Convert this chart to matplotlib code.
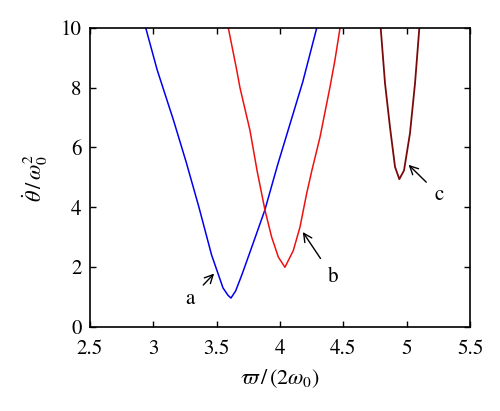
import matplotlib
matplotlib.use('Agg')
from matplotlib import pyplot as plt

# curve a (blue)
a_x = [2.94, 3.03, 3.16, 3.26, 3.36, 3.46, 3.55, 3.59, 3.613, 3.65, 3.70, 3.78,
       3.88, 3.98, 4.08, 4.18, 4.29]
a_y = [10.0, 8.6, 6.9, 5.5, 4.0, 2.4, 1.3, 1.05, 0.96, 1.2, 1.75, 2.7,
       3.9, 5.4, 6.8, 8.2, 10.0]

# curve b (red)
b_x = [3.592, 3.658, 3.684, 3.763, 3.82, 3.882, 3.934, 3.987, 4.039,
       4.105, 4.158, 4.21, 4.25, 4.316, 4.395, 4.434, 4.474]
b_y = [10.0, 8.6, 8.0, 6.57, 5.2, 3.89, 3.0, 2.33, 1.99,
       2.55, 3.34, 4.45, 5.2, 6.35, 8.03, 8.93, 10.0]

# curve c (dark red)
c_x = [4.795, 4.829, 4.868, 4.908, 4.942, 4.979, 5.026, 5.066, 5.10]
c_y = [10.0, 8.15, 6.69, 5.35, 4.94, 5.23, 6.47, 8.15, 10.0]

x_ticks = [2.5, 3, 3.5, 4, 4.5, 5, 5.5]
y_ticks = [0, 2, 4, 6, 8, 10]

# label, text position, arrow head position
labels = [('a', (3.29, 0.93), (3.48, 1.78)),
          ('b', (4.42, 1.65), (4.18, 3.17)),
          ('c', (5.26, 4.4), (5.015, 5.42))]

plt.rcParams['font.family'] = 'STIXGeneral'
plt.rcParams['mathtext.fontset'] = 'stix'

fig = plt.figure(figsize=(5, 4.11), dpi=100)
ax = fig.add_axes([0.18, 0.205, 0.76, 0.727])

ax.plot(a_x, a_y, color='#0000ee', lw=1.1)
ax.plot(b_x, b_y, color='#ee1111', lw=1.1)
ax.plot(c_x, c_y, color='#7a0a0a', lw=1.3)

for name, txt, head in labels:
    ax.annotate(name, xy=head, xytext=txt, fontsize=15, ha='center', va='center',
                arrowprops=dict(arrowstyle='->', color='black', lw=1.0,
                                shrinkA=6, shrinkB=0))

ax.set_xlim(2.5, 5.5)
ax.set_ylim(0, 10)
ax.set_xticks(x_ticks)
ax.set_xticklabels([f'{t:g}' for t in x_ticks])
ax.set_yticks(y_ticks)
ax.tick_params(direction='in', top=True, right=True, length=4, width=1,
               labelsize=15)
ax.tick_params(axis='x', pad=9)
ax.tick_params(axis='y', pad=6)
for s in ax.spines.values():
    s.set_linewidth(1.2)

ax.set_xlabel(r'$\varpi\,/\,(2\omega_0)$', fontsize=16, labelpad=6)
ax.set_ylabel(r'$\dot{\theta}\,/\,\omega_0^2$', fontsize=16, labelpad=8)

fig.savefig('out.png', dpi=100)
